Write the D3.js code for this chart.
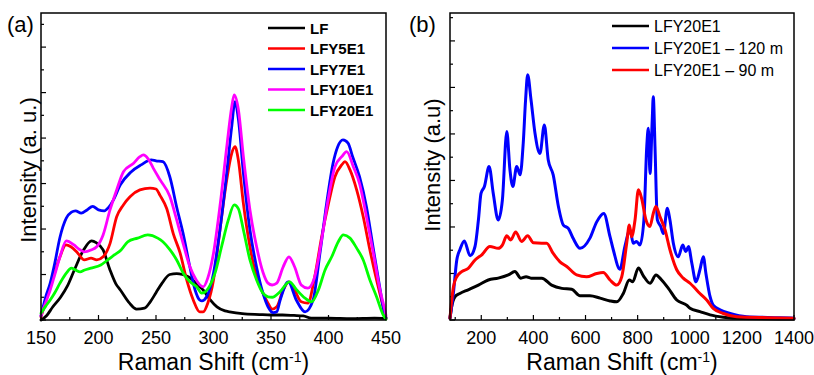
<!DOCTYPE html>
<html>
<head>
<meta charset="utf-8">
<script src="https://cdn.jsdelivr.net/npm/d3@7"></script>
<style>
  body { margin: 0; background: #fff; }
  svg { display: block; font-family: "Liberation Sans", Arial, sans-serif; }
  .frame { fill: none; stroke: #000; stroke-width: 1.5; }
  .tick-line { stroke: #000; stroke-width: 1.2; }
  .series { fill: none; stroke-linejoin: round; stroke-linecap: round; }
</style>
</head>
<body>
<svg id="chart" width="814" height="375"></svg>
<script>
// ---- panel (a): Raman spectra, 150-450 cm-1 ----
var aNames = ["LF", "LFY5E1", "LFY7E1", "LFY10E1", "LFY20E1"];
var aColors = ["#000000", "#ff0000", "#0000ff", "#ff00ff", "#00ff00"];
var aXTicks = [150, 200, 250, 300, 350, 400, 450];

var LF = [[150,0],[155,0.1],[160,0.28],[167,0.5],[173,0.75],[179,1.1],[187,1.54],[194,1.74],[198,1.7],[204,1.54],[210,1.1],[215,0.8],[219,0.66],[227,0.37],[233,0.24],[240,0.26],[245,0.4],[250,0.6],[255,0.8],[262,1.0],[268,1.02],[273,1.0],[278,0.95],[282,0.88],[287,0.75],[291,0.66],[297,0.45],[303,0.29],[310,0.2],[314,0.18],[325,0.14],[340,0.12],[350,0.11],[360,0.11],[370,0.1],[378,0.09],[385,0.04],[400,0.04],[420,0.03],[440,0.04],[450,0.03]];

var LFY5E1 = [[150,0.07],[154,0.4],[158,0.73],[162,1.05],[166.5,1.39],[171.7,1.65],[176,1.61],[182,1.47],[187.7,1.32],[193.5,1.36],[198.4,1.32],[204,1.39],[210,1.68],[215.8,2.27],[221.6,2.53],[227.4,2.71],[236,2.86],[244.8,2.9],[250,2.88],[253.5,2.74],[259.3,2.45],[265,1.9],[271,1.47],[276.7,0.88],[282.4,0.44],[288,0.18],[291,0.18],[295,0.37],[300,0.88],[305.6,1.98],[311.5,3.08],[315.8,3.66],[318.7,3.81],[321.6,3.52],[326,2.56],[331.7,1.61],[337.5,0.95],[343,0.59],[347.4,0.37],[351,0.24],[355,0.29],[360.6,0.66],[365.6,0.84],[370.5,0.66],[376.3,0.4],[382,0.37],[388,0.95],[394,1.82],[400,2.56],[405.6,3.15],[411.5,3.41],[414.3,3.48],[418.7,3.3],[424.5,2.86],[430.2,2.27],[436,1.54],[441.8,0.88],[446,0.44],[450,0.05]];

var LFY7E1 = [[150,0.09],[154,0.5],[158,0.81],[162,1.25],[166.5,1.82],[172,2.24],[176.5,2.37],[180,2.4],[185,2.35],[190,2.42],[195,2.5],[200,2.42],[205,2.4],[209,2.48],[213,2.64],[219,2.97],[228,3.25],[237,3.41],[246,3.52],[250,3.5],[256,3.48],[262,3.15],[268,2.48],[273.5,1.91],[279.5,1.16],[284,0.66],[288,0.44],[290,0.42],[294,0.51],[300,1.03],[305.6,1.98],[311.5,3.23],[315.8,4.24],[318.7,4.8],[321.7,4.4],[326,3.23],[331.7,1.98],[337.5,1.16],[343,0.59],[347.4,0.29],[352,0.16],[355,0.18],[358,0.44],[365,0.84],[372,0.44],[379.6,0.18],[386.6,0.44],[392.6,1.47],[398.4,2.57],[404,3.45],[408,3.81],[412.6,3.96],[417,3.89],[421,3.59],[427,3.15],[433,2.49],[438.7,1.61],[444.5,0.73],[449,0.11],[450,0.05]];

var LFY10E1 = [[150,0.1],[154,0.38],[158,0.66],[162,1.0],[166.5,1.39],[172,1.74],[178.7,1.65],[183,1.56],[187.7,1.5],[193.5,1.54],[198.4,1.61],[204,1.87],[210,2.42],[215.8,2.86],[221.7,3.26],[230.3,3.44],[236,3.59],[239,3.63],[243,3.55],[247.6,3.34],[253.6,3.08],[262,2.72],[268,2.2],[273.5,1.69],[279.5,1.17],[285,0.88],[291,0.73],[295,0.92],[300,1.47],[305.6,2.5],[311.5,3.8],[315.8,4.68],[318,4.95],[321.7,4.62],[326,3.59],[331.7,2.42],[337.5,1.61],[343,1.05],[347.4,0.81],[351,0.77],[355,0.81],[360.6,1.17],[365.6,1.39],[370.5,1.17],[376.3,0.77],[382,0.7],[388,0.95],[394,1.76],[400,2.7],[405.6,3.37],[411.5,3.59],[415.8,3.7],[421.6,3.37],[427,3.0],[433,2.27],[439,1.47],[444.8,0.66],[449,0.22],[450,0.1]];

var LFY20E1 = [[150,0.15],[154,0.3],[158,0.44],[162,0.6],[166.5,0.81],[172,1.03],[176.5,1.14],[180,1.1],[184,1.06],[188,1.1],[193.5,1.14],[202,1.21],[208,1.32],[213.7,1.43],[219.6,1.54],[225.4,1.72],[234,1.8],[242.8,1.87],[251.5,1.8],[256,1.72],[262.2,1.54],[268,1.32],[273.7,1.03],[279.6,0.84],[285.4,0.73],[289.7,0.59],[295.5,0.7],[301.3,1.03],[307,1.61],[312.9,2.2],[318,2.53],[321.6,2.45],[326,1.98],[331.7,1.32],[337.5,0.88],[343,0.59],[347.4,0.51],[351,0.5],[357.8,0.62],[366,0.84],[372.4,0.66],[379.6,0.48],[385.4,0.4],[391.2,0.66],[397,1.1],[402.8,1.39],[408.5,1.72],[412.9,1.87],[418.7,1.8],[424.5,1.58],[430.2,1.32],[436,0.88],[441.8,0.51],[447.6,0.11],[450,0.02]];

// ---- panel (b): annealed sample, 80-1400 cm-1 ----
var bNames = ["LFY20E1", "LFY20E1 \u2013 120 m", "LFY20E1 \u2013 90 m"];
var bColors = ["#000000", "#0000ff", "#ff0000"];
var bXTicks = [200, 400, 600, 800, 1000, 1200, 1400];

var B_base = [[80,0.04],[86.5,0.29],[99,0.5],[118,0.57],[150,0.65],[189,0.75],[227,0.86],[265,0.9],[304,0.97],[329,1.04],[352,0.9],[372,0.93],[391,0.9],[432,0.9],[470,0.75],[509,0.68],[547,0.66],[579,0.52],[617,0.52],[656,0.47],[694,0.41],[720,0.39],[745,0.57],[768,0.86],[781,0.82],[803,1.12],[822,0.95],[847.5,0.79],[870.5,0.97],[892,0.86],[918,0.68],[950,0.43],[988,0.32],[1001,0.25],[1039,0.18],[1078,0.11],[1129,0.06],[1200,0.03],[1400,0.02]];

var B_120 = [[80,0.04],[93,0.58],[106,1.29],[118,1.51],[135,1.7],[157,1.38],[176,1.58],[189,2.15],[199,2.72],[212,2.87],[230,3.3],[246,2.72],[265,2.15],[281,2.58],[298,4.05],[310,3.23],[321,2.87],[336,3.3],[349,3.12],[361,3.8],[370,4.73],[378,5.27],[391,4.73],[406,4.02],[425,3.58],[442,4.19],[457,3.44],[476,3.12],[496,2.44],[515,2.04],[534,1.97],[553,1.75],[579,1.54],[617,1.76],[643,2.11],[670,2.29],[694,1.79],[707,1.5],[732,1.09],[751,1.58],[771,1.94],[783,1.65],[796,1.69],[809,1.61],[824,2.15],[835,3.73],[841,4.12],[847.5,3.15],[856,4.3],[860,4.8],[866.6,3.73],[875.6,2.15],[888.6,2.01],[898.6,1.86],[914,2.4],[924,2.15],[937,1.65],[956,1.36],[973,1.61],[985,1.47],[995,1.58],[1008,1.22],[1024,0.82],[1039,1.08],[1052,1.36],[1062,1.0],[1078,0.5],[1090,0.32],[1116,0.22],[1155,0.14],[1218,0.07],[1346,0.05],[1400,0.04]];

var B_90 = [[80,0.04],[88,0.5],[93,0.71],[106,0.93],[125,1.04],[150,1.11],[176,1.29],[202,1.4],[233,1.58],[265,1.54],[281,1.61],[298,1.81],[313,1.72],[332,1.89],[355,1.69],[378,1.81],[400,1.66],[432,1.65],[451,1.65],[476,1.43],[502,1.25],[528,1.15],[566,0.97],[604,0.93],[643,1.0],[668,1.02],[694,0.86],[720,0.75],[739,0.93],[758,1.65],[768,2.04],[777,1.79],[790,2.15],[803,2.8],[815,2.62],[832,2.15],[847,2.01],[860,2.29],[870,2.44],[886,2.22],[905,1.94],[924,1.51],[950,1.08],[975,0.9],[1001,0.79],[1014,0.72],[1039,0.57],[1065,0.43],[1090,0.25],[1129,0.14],[1180,0.07],[1300,0.05],[1400,0.04]];

var svg = d3.select("#chart");

function draw_panel(opt) {
    var x = d3.scaleLinear().domain(opt.xDomain).range([opt.left, opt.right]);
    var y = d3.scaleLinear().domain([0, opt.yMax]).range([opt.bottom, opt.top]);
    var g = svg.append("g");

    // inward ticks, major and minor
    var yMajor = d3.range(0, Math.floor(opt.yMax) + 1, 1),
        yMinor = d3.range(0.5, opt.yMax, 1);
    yMajor.forEach(function (v) {
        g.append("line").attr("class", "tick-line")
            .attr("x1", opt.left).attr("x2", opt.left + 5)
            .attr("y1", y(v)).attr("y2", y(v));
    });
    yMinor.forEach(function (v) {
        g.append("line").attr("class", "tick-line")
            .attr("x1", opt.left).attr("x2", opt.left + 3)
            .attr("y1", y(v)).attr("y2", y(v));
    });
    opt.xTicks.forEach(function (v) {
        g.append("line").attr("class", "tick-line")
            .attr("x1", x(v)).attr("x2", x(v))
            .attr("y1", opt.bottom).attr("y2", opt.bottom - 5);
        g.append("text")
            .attr("x", x(v)).attr("y", opt.bottom + 24)
            .attr("text-anchor", "middle")
            .style("font-size", "18px")
            .text(v);
    });
    opt.xMinor.forEach(function (v) {
        g.append("line").attr("class", "tick-line")
            .attr("x1", x(v)).attr("x2", x(v))
            .attr("y1", opt.bottom).attr("y2", opt.bottom - 3);
    });

    // spectra
    var line = d3.line()
        .x(function (d) { return x(d[0]); })
        .y(function (d) { return y(d[1]); })
        .curve(d3.curveMonotoneX);
    opt.series.forEach(function (s, i) {
        g.append("path")
            .attr("class", "series")
            .attr("d", line(s))
            .style("stroke", opt.colors[i])
            .style("stroke-width", opt.lineWidth);
    });

    // frame
    g.append("rect").attr("class", "frame")
        .attr("x", opt.left).attr("y", opt.top)
        .attr("width", opt.right - opt.left)
        .attr("height", opt.bottom - opt.top);

    // legend
    opt.names.forEach(function (n, i) {
        var ly = opt.legY + i * opt.legStep;
        g.append("line")
            .attr("x1", opt.legX).attr("x2", opt.legX + 37)
            .attr("y1", ly).attr("y2", ly)
            .style("stroke", opt.colors[i])
            .style("stroke-width", 2.5);
        g.append("text")
            .attr("x", opt.legX + 42).attr("y", ly + 5.5)
            .style("font-size", opt.legSize)
            .style("font-weight", opt.legWeight)
            .text(n);
    });

    // titles
    var xt = g.append("text")
        .attr("x", (opt.left + opt.right) / 2).attr("y", 370)
        .attr("text-anchor", "middle")
        .style("font-size", "23px");
    xt.append("tspan").text("Raman Shift (cm");
    xt.append("tspan").attr("dy", -8).style("font-size", "14px").text("-1");
    xt.append("tspan").attr("dy", 8).text(")");

    g.append("text")
        .attr("transform", "translate(" + opt.yTitleX + "," + opt.yTitleY + ") rotate(-90)")
        .attr("text-anchor", "middle")
        .style("font-size", "22px")
        .text(opt.yTitle);

    g.append("text")
        .attr("x", opt.tagX).attr("y", 32)
        .style("font-size", "22px")
        .text(opt.tag);
}

draw_panel({
    left: 41, right: 386, top: 13, bottom: 320,
    xDomain: [150, 450], yMax: 6.75,
    xTicks: aXTicks, xMinor: [175, 225, 275, 325, 375, 425],
    series: [LF, LFY5E1, LFY7E1, LFY10E1, LFY20E1],
    colors: aColors, names: aNames, lineWidth: 2.8,
    legX: 268, legY: 28, legStep: 20.5, legSize: "15px", legWeight: "bold",
    yTitle: "Intensity (a. u.)", yTitleX: 36, yTitleY: 170,
    tag: "(a)", tagX: 7
});

draw_panel({
    left: 450, right: 794, top: 13, bottom: 320,
    xDomain: [80, 1400], yMax: 6.6,
    xTicks: bXTicks, xMinor: [100, 300, 500, 700, 900, 1100, 1300],
    series: [B_base, B_120, B_90],
    colors: bColors, names: bNames, lineWidth: 3,
    legX: 612, legY: 26, legStep: 22, legSize: "16px", legWeight: "normal",
    yTitle: "Intensity (a.u)", yTitleX: 440, yTitleY: 165,
    tag: "(b)", tagX: 409
});
</script>
</body>
</html>
